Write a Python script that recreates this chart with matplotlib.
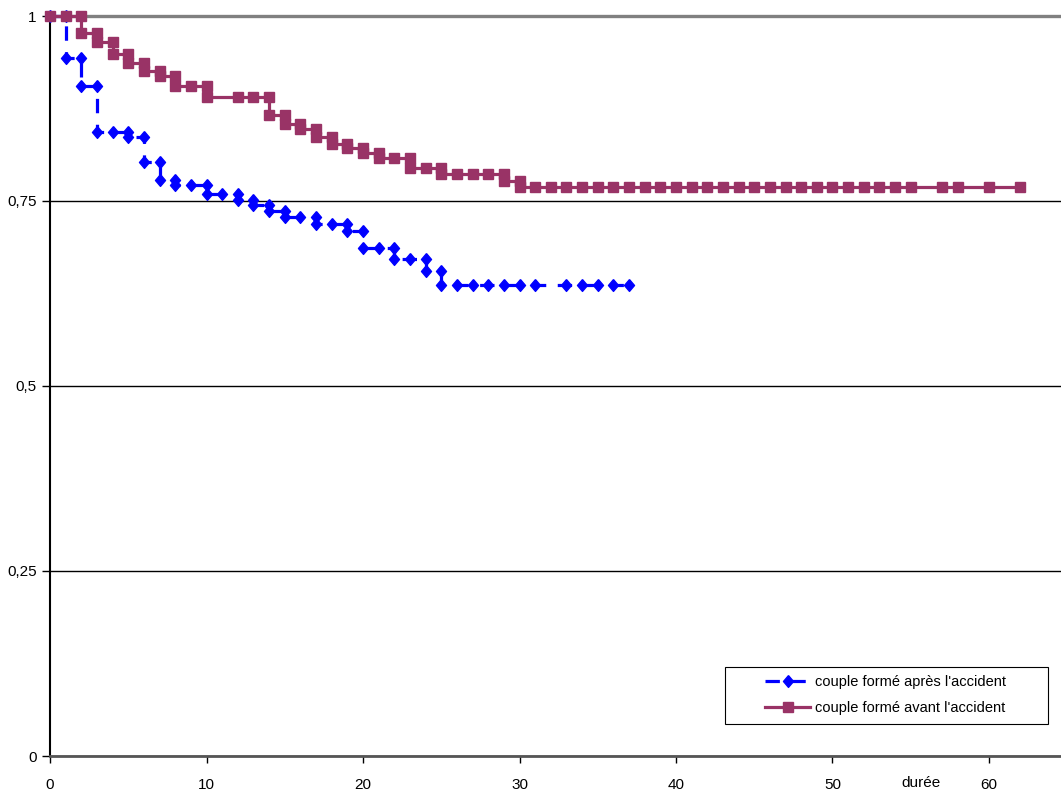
import matplotlib
matplotlib.use('Agg')
import matplotlib.pyplot as plt
from matplotlib.patches import Rectangle

plt.rcParams['font.family'] = ['Liberation Sans', 'DejaVu Sans']

# survival curves (durée, proportion)
apres_t = [0, 1, 2, 3, 4, 5, 6, 7, 8, 9, 10, 11, 12, 13, 14, 15, 16, 17, 18, 19,
           20, 21, 22, 23, 24, 25, 26, 27, 28, 29, 30, 31, 33, 34, 35, 36, 37]
apres_s = [1.0, 0.943, 0.906, 0.843, 0.843, 0.837, 0.803, 0.778, 0.772, 0.772,
           0.759, 0.759, 0.752, 0.745, 0.737, 0.728, 0.728, 0.719, 0.719, 0.709,
           0.686, 0.686, 0.671, 0.671, 0.655, 0.636, 0.636, 0.636, 0.636, 0.636,
           0.636, 0.636, 0.636, 0.636, 0.636, 0.636, 0.636]

avant_t = [0, 1, 2, 3, 4, 5, 6, 7, 8, 9, 10, 12, 13, 14, 15, 16, 17, 18, 19, 20,
           21, 22, 23, 24, 25, 26, 27, 28, 29, 30, 31, 32, 33, 34, 35, 36, 37, 38,
           39, 40, 41, 42, 43, 44, 45, 46, 47, 48, 49, 50, 51, 52, 53, 54, 55,
           57, 58, 60, 62]
avant_s = [1.0, 1.0, 0.977, 0.965, 0.949, 0.936, 0.926, 0.919, 0.906, 0.906,
           0.890, 0.890, 0.890, 0.866, 0.854, 0.847, 0.836, 0.827, 0.821, 0.815,
           0.808, 0.808, 0.795, 0.795, 0.786, 0.786, 0.786, 0.786, 0.777, 0.769,
           0.769, 0.769, 0.769, 0.769, 0.769, 0.769, 0.769, 0.769, 0.769, 0.769,
           0.769, 0.769, 0.769, 0.769, 0.769, 0.769, 0.769, 0.769, 0.769, 0.769,
           0.769, 0.769, 0.769, 0.769, 0.769, 0.769, 0.769, 0.769, 0.769]

x_ticks = [0, 10, 20, 30, 40, 50, 60]
y_ticks = [0, 0.25, 0.5, 0.75, 1]
y_labels = ['0', '0,25', '0,5', '0,75', '1']
series_labels = ["couple formé après l'accident", "couple formé avant l'accident"]
x_title = 'durée'


def steps(t, s):
    # excel style step: a point before and after each drop
    xs, ys = [t[0]], [s[0]]
    for i in range(1, len(t)):
        xs.append(t[i])
        ys.append(s[i - 1])
        if s[i] != s[i - 1]:
            xs.append(t[i])
            ys.append(s[i])
    return xs, ys


W, H = 1061, 794
fig = plt.figure(figsize=(W / 100, H / 100), dpi=100)
ax = fig.add_axes([50 / W, 1 - 756 / H, 1 - 50 / W, (756 - 16) / H])

diamond = [(0, 1), (0.85, 0), (0, -1), (-0.85, 0), (0, 1)]

bx, by = steps(apres_t, apres_s)
ax.plot(bx, by, color='#0000FF', lw=2.3, ls=(0, (4.5, 3.6)), marker=diamond,
        ms=8.5, mfc='#0000FF', mec='#0000FF', clip_on=False, zorder=3,
        label=series_labels[0])

rx, ry = steps(avant_t, avant_s)
ax.plot(rx, ry, color='#993366', lw=2.3, marker='s', ms=7, mfc='#993366',
        mec='#993366', clip_on=False, zorder=4, label=series_labels[1])

ax.set_xlim(0, (W - 50) / 15.65)
ax.set_ylim(0, 1)
ax.set_xticks(x_ticks)
ax.set_yticks(y_ticks, y_labels)
ax.set_xticks([55.65], [x_title], minor=True)

ax.yaxis.grid(True, color='black', lw=1)
ax.spines['right'].set_visible(False)
ax.spines['top'].set_color('#808080')
ax.spines['top'].set_linewidth(2.4)
ax.spines['bottom'].set_color('#555555')
ax.spines['bottom'].set_linewidth(2)
ax.spines['left'].set_color('black')
ax.spines['left'].set_linewidth(1.5)

ax.tick_params(axis='x', which='major', direction='out', length=5, width=1,
               pad=11, labelsize=11)
ax.tick_params(axis='x', which='minor', length=0, pad=14.6, labelsize=11)
ax.tick_params(axis='y', direction='out', length=6, width=1, pad=3.5,
               labelsize=11)

leg = ax.legend(loc='upper left', bbox_to_anchor=(765 / W, 1 - 675 / H),
                bbox_transform=fig.transFigure, frameon=False, borderpad=0,
                borderaxespad=0, handlelength=3.1, handletextpad=0.35,
                labelspacing=0.85, fontsize=10.5, numpoints=1)
fig.add_artist(Rectangle((725 / W, 1 - 724 / H), (1048 - 725) / W, (724 - 667) / H,
                         transform=fig.transFigure, fill=False,
                         edgecolor='black', lw=0.8))

fig.savefig('out.png', dpi=100)
